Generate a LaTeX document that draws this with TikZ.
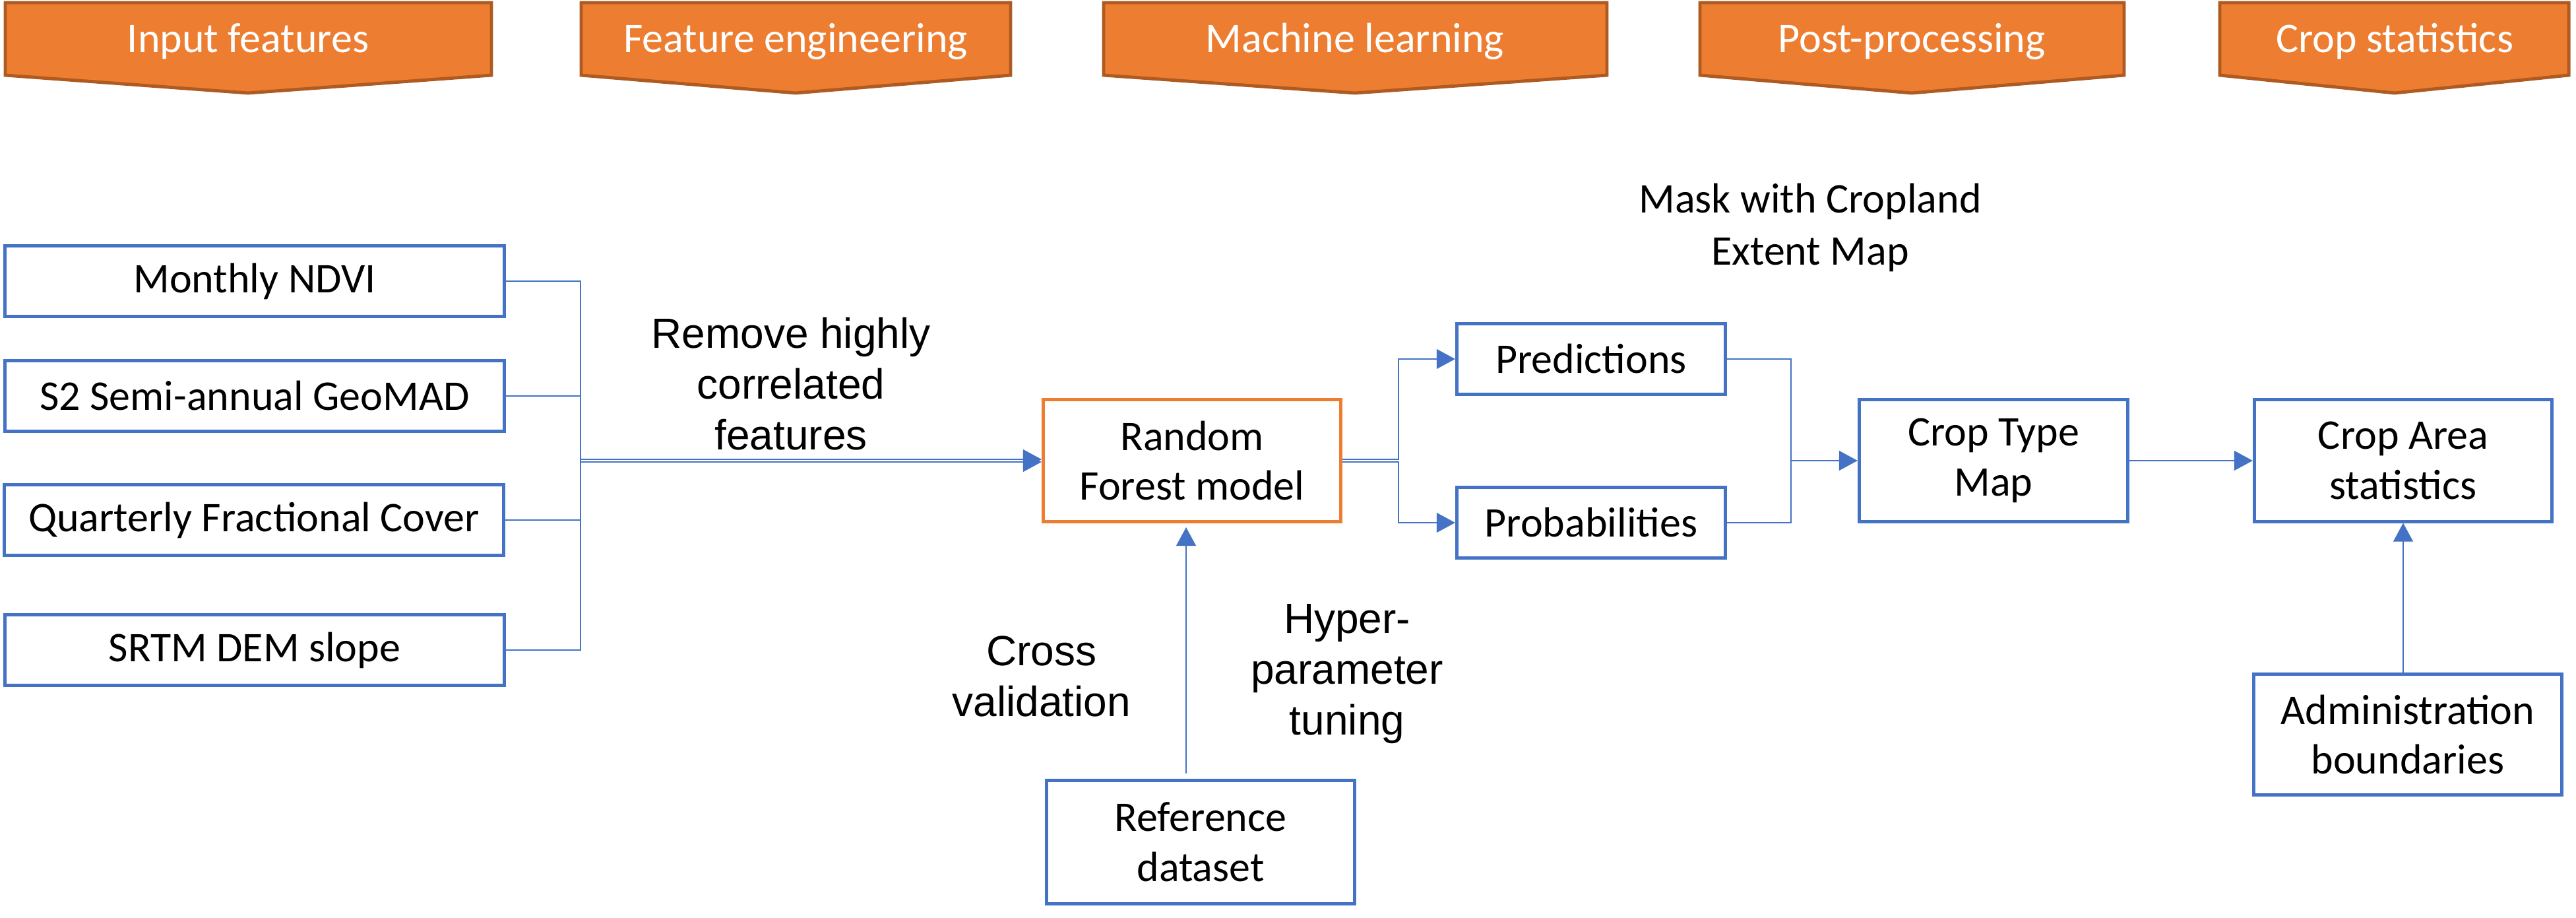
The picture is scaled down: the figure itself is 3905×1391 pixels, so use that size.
\documentclass[tikz,border=0pt]{standalone}
\usepackage{fontspec}
\setmainfont{Carlito}
\newfontfamily\arialf{Liberation Sans}
\usetikzlibrary{arrows.meta,calc}
\definecolor{cblue}{HTML}{4472C4}
\definecolor{corange}{HTML}{ED7D31}
\definecolor{cdark}{HTML}{AE5A21}
\begin{document}
\begin{tikzpicture}[x=0.01cm,y=-0.01cm,
 box/.style={draw=cblue,line width=1.4pt,fill=white,align=center,inner sep=0pt,font=\fontsize{18.2}{21.5}\selectfont},
 rfbox/.style={box,draw=corange},
 conn/.style={draw=cblue,line width=0.6pt},
 arr/.style={conn,-{Triangle[length=8pt,width=8.5pt]}},
 hdr/.style={fill=corange,draw=cdark,line width=1.4pt,line join=miter},
 hdrtxt/.style={text=white,font=\fontsize{18.2}{21.5}\selectfont,anchor=base,inner sep=0pt},
 lab/.style={align=center,inner sep=0pt,font=\arialf\fontsize{18.2}{21.9}\selectfont},
 clab/.style={align=center,inner sep=0pt,font=\fontsize{18.2}{22.5}\selectfont}]
\useasboundingbox (0,0) rectangle (3905,1391);

% headers
\draw[hdr] (8,4) -- (745,4) -- (745,114) -- (376,141) -- (8,114) -- cycle;
\node[hdrtxt] (h1) at (376,80) {Input features};
\draw[hdr] (881,4) -- (1532,4) -- (1532,114) -- (1206,141) -- (881,114) -- cycle;
\node[hdrtxt] (h2) at (1206,80) {Feature engineering};
\draw[hdr] (1673,4) -- (2436,4) -- (2436,114) -- (2054,141) -- (1673,114) -- cycle;
\node[hdrtxt] (h3) at (2054,80) {Machine learning};
\draw[hdr] (2577,4) -- (3220,4) -- (3220,114) -- (2898,141) -- (2577,114) -- cycle;
\node[hdrtxt] (h4) at (2898,80) {Post-processing};
\draw[hdr] (3365,4) -- (3894,4) -- (3894,114) -- (3630,141) -- (3365,114) -- cycle;
\node[hdrtxt] (h5) at (3630,80) {Crop statistics};

% boxes
\node[box,minimum width=7.57cm,minimum height=1.07cm] (ndvi) at (386,426) {Monthly NDVI};
\node[box,minimum width=7.57cm,minimum height=1.07cm] (s2) at (386,600) {S2 Semi-annual GeoMAD};
\node[box,minimum width=7.57cm,minimum height=1.07cm] (qfc) at (385,788) {Quarterly Fractional Cover};
\node[box,minimum width=7.57cm,minimum height=1.07cm] (srtm) at (386,985) {SRTM DEM slope};
\node[rfbox,minimum width=4.51cm,minimum height=1.85cm] (rf) at (1807,698) {Random\\Forest model};
\node[box,minimum width=4.07cm,minimum height=1.07cm] (pred) at (2412,544) {Predictions};
\node[box,minimum width=4.07cm,minimum height=1.07cm] (prob) at (2412,792) {Probabilities};
\node[box,minimum width=4.07cm,minimum height=1.84cm] (ctm) at (3022,698) {Crop Type\\Map};
\node[box,minimum width=4.51cm,minimum height=1.84cm] (cas) at (3643,698) {Crop Area\\statistics};
\node[box,minimum width=4.66cm,minimum height=1.83cm] (admin) at (3650,1113) {Administration\\boundaries};
\node[box,minimum width=4.66cm,minimum height=1.86cm] (refd) at (1820,1276) {Reference\\dataset};

% labels
\node[lab] (remove) at (1199,582) {Remove highly\\correlated\\features};
\node[clab] (mask) at (2744,345) {Mask with Cropland\\Extent Map};
\node[lab] (cross) at (1579,1025) {Cross\\validation};
\node[lab] (hyper) at (2042,1021) {Hyper-\\parameter\\tuning};

% connectors
\coordinate (busA) at (880,698);
\draw[conn] (ndvi.east) -| (busA);
\draw[conn] (s2.east) -| (busA);
\draw[conn] (qfc.east) -| (busA);
\draw[conn] (srtm.east) -| (busA);
\draw[arr] ($(busA)+(0,-2)$) -- ($(rf.west)+(0,-2)$);
\draw[arr] ($(busA)+(0,2)$) -- ($(rf.west)+(0,2)$);

\coordinate (busB) at (2120,698);
\draw[arr] ($(rf.east)+(0,-2)$) -| (busB |- pred.west) -- (pred.west);
\draw[arr] ($(rf.east)+(0,2)$) -| (busB |- prob.west) -- (prob.west);

\coordinate (busC) at (2715,698);
\draw[conn] (pred.east) -| (busC);
\draw[conn] (prob.east) -| (busC);
\draw[arr] (busC) -- (ctm.west);

\draw[arr] (ctm.east) -- (cas.west);
\draw[arr] (admin.north -| cas.south) -- (cas.south);

\coordinate (rfin) at (1798,0);
\draw[arr,shorten <=2.3pt,shorten >=1.7pt] (refd.north -| rfin) -- (rf.south -| rfin);
\end{tikzpicture}
\end{document}
